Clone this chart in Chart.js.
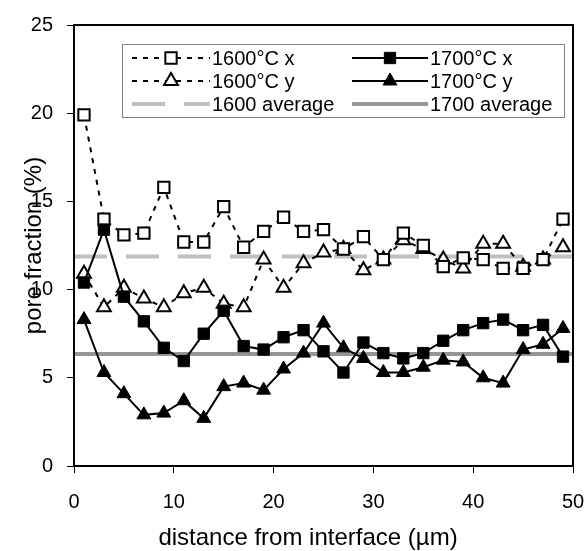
<!DOCTYPE html>
<html>
<head>
<meta charset="utf-8">
<script src="https://cdn.jsdelivr.net/npm/chart.js@4"></script>
<style>
  html, body { margin: 0; padding: 0; background: #fff; }
  #wrap { width: 588px; height: 551px; }
</style>
</head>
<body>
<div id="wrap"><canvas id="c" width="588" height="551"></canvas></div>
<script>
// ---- data ----
const distances = [1,3,5,7,9,11,13,15,17,19,21,23,25,27,29,31,33,35,37,39,41,43,45,47,49];
const x1600 = [19.9,14.0,13.1,13.2,15.8,12.7,12.7,14.7,12.4,13.3,14.1,13.3,13.4,12.3,13.0,11.7,13.2,12.5,11.3,11.8,11.7,11.2,11.2,11.7,14.0];
const y1600 = [10.9,9.0,10.1,9.5,9.0,9.8,10.1,9.2,9.0,11.7,10.1,11.5,12.1,12.3,11.1,11.7,12.8,12.3,11.7,11.2,12.6,12.6,11.3,11.7,12.4];
const x1700 = [10.4,13.4,9.6,8.2,6.7,5.95,7.5,8.8,6.8,6.6,7.3,7.7,6.5,5.3,7.0,6.4,6.1,6.4,7.1,7.7,8.1,8.3,7.7,8.0,6.2];
const y1700 = [8.3,5.3,4.1,2.9,3.0,3.7,2.7,4.5,4.7,4.3,5.5,6.4,8.1,6.7,6.1,5.3,5.3,5.6,6.0,5.9,5.0,4.7,6.6,6.9,7.8];
const avgRange = [0, 50];
const avg1600 = 11.87;
const avg1700 = 6.35;
const xTicks = [0,10,20,30,40,50];
const yTicks = [0,5,10,15,20,25];
const seriesNames = ['1600°C x','1700°C x','1600°C y','1700°C y','1600 average','1700 average'];
const xTitle = 'distance from interface (µm)';
const yTitle = 'pore fraction (%)';

const pts = (xs, ys) => xs.map((x, i) => ({x: x, y: ys[i]}));
const flat = (v) => avgRange.map(x => ({x: x, y: v}));

const FONT = "'Liberation Sans', Arial, sans-serif";

const datasets = [
  { label: seriesNames[0], data: pts(distances, x1600), borderColor: '#000', borderWidth: 2, borderDash: [5,6],
    pointStyle: 'rect', pointRadius: 8, pointBorderWidth: 2, pointBackgroundColor: '#fff', pointBorderColor: '#000', order: 2 },
  { label: seriesNames[1], data: pts(distances, x1700), borderColor: '#000', borderWidth: 2,
    pointStyle: 'rect', pointRadius: 8, pointBorderWidth: 1, pointBackgroundColor: '#000', pointBorderColor: '#000', order: 1 },
  { label: seriesNames[2], data: pts(distances, y1600), borderColor: '#000', borderWidth: 2, borderDash: [5,6],
    pointStyle: 'triangle', pointRadius: 8, pointBorderWidth: 2, pointBackgroundColor: '#fff', pointBorderColor: '#000', order: 2 },
  { label: seriesNames[3], data: pts(distances, y1700), borderColor: '#000', borderWidth: 2,
    pointStyle: 'triangle', pointRadius: 8, pointBorderWidth: 1, pointBackgroundColor: '#000', pointBorderColor: '#000', order: 1 },
  { label: seriesNames[4], data: flat(avg1600), borderColor: '#c0c0c0', borderWidth: 4, borderDash: [33,19],
    pointRadius: 0, order: 10 },
  { label: seriesNames[5], data: flat(avg1700), borderColor: '#969696', borderWidth: 4,
    pointRadius: 0, order: 10 }
];

// custom two-column legend drawn inside the chart area
const legendPlugin = {
  id: 'boxLegend',
  afterDraw(chart) {
    const ctx = chart.ctx;
    const box = { l: 122, t: 44, r: 564, b: 117 };
    ctx.save();
    ctx.fillStyle = '#fff';
    ctx.fillRect(box.l, box.t, box.r - box.l, box.b - box.t);
    ctx.strokeStyle = '#808080';
    ctx.lineWidth = 1;
    ctx.strokeRect(box.l + 0.5, box.t + 0.5, box.r - box.l, box.b - box.t);
    const cols = [{ x0: 132, x1: 210, tx: 212 }, { x0: 352, x1: 428, tx: 430 }];
    const rows = [58, 81, 104];
    const layout = [[0, 1], [2, 3], [4, 5]];
    ctx.font = '20px ' + FONT;
    ctx.textBaseline = 'middle';
    ctx.textAlign = 'left';
    layout.forEach((pair, r) => {
      pair.forEach((di, c) => {
        const ds = chart.data.datasets[di];
        const col = cols[c];
        const y = rows[r];
        ctx.save();
        ctx.strokeStyle = ds.borderColor;
        ctx.lineWidth = ds.borderWidth;
        ctx.setLineDash(ds.borderDash || []);
        ctx.beginPath();
        ctx.moveTo(col.x0, y);
        ctx.lineTo(col.x1, y);
        ctx.stroke();
        ctx.restore();
        if (ds.pointRadius > 0) {
          ctx.save();
          ctx.fillStyle = ds.pointBackgroundColor;
          ctx.strokeStyle = ds.pointBorderColor;
          ctx.lineWidth = ds.pointBorderWidth;
          Chart.helpers.drawPoint(ctx, { pointStyle: ds.pointStyle, radius: ds.pointRadius, borderWidth: ds.pointBorderWidth, rotation: 0 }, (col.x0 + col.x1) / 2, y);
          ctx.restore();
        }
        ctx.fillStyle = '#000';
        ctx.fillText(ds.label, col.tx, y + 1);
      });
    });
    // x-axis title (slightly left of chart-area centre, as in the reference)
    ctx.font = '24px ' + FONT;
    ctx.textAlign = 'center';
    ctx.textBaseline = 'middle';
    ctx.fillStyle = '#000';
    ctx.fillText(xTitle, 308, 538);
    ctx.restore();
  }
};

const framePlugin = {
  id: 'frame',
  afterDatasetsDraw(chart) {
    const a = chart.chartArea;
    const ctx = chart.ctx;
    ctx.save();
    ctx.strokeStyle = '#000';
    ctx.lineWidth = 2;
    ctx.strokeRect(a.left, a.top, a.right - a.left, a.bottom - a.top);
    ctx.restore();
  }
};

new Chart(document.getElementById('c'), {
  type: 'line',
  data: { datasets: datasets },
  options: {
    responsive: false,
    animation: false,
    events: [],
    layout: { padding: { top: 25, right: 15, left: 0, bottom: 0 } },
    plugins: { legend: { display: false }, tooltip: { enabled: false } },
    elements: { line: { tension: 0 } },
    scales: {
      x: {
        type: 'linear', min: 0, max: 50,
        afterBuildTicks: (s) => { s.ticks = xTicks.map(v => ({ value: v })); },
        afterFit: (s) => { s.height = 85; s.paddingRight = 0; s.paddingLeft = 0; },
        grid: { drawOnChartArea: false, tickLength: 7, color: '#000', tickWidth: 1 },
        border: { color: '#000', width: 2 },
        ticks: { color: '#000', font: { family: FONT, size: 20 }, padding: 17, maxRotation: 0 },
        title: { display: false }
      },
      y: {
        type: 'linear', min: 0, max: 25,
        afterBuildTicks: (s) => { s.ticks = yTicks.map(v => ({ value: v })); },
        afterFit: (s) => { s.width = 74; s.paddingTop = 0; s.paddingBottom = 0; },
        grid: { drawOnChartArea: false, tickLength: 7, color: '#000', tickWidth: 1 },
        border: { color: '#000', width: 2 },
        ticks: { color: '#000', font: { family: FONT, size: 20 }, padding: 14 },
        title: { display: true, text: yTitle, color: '#000', font: { family: FONT, size: 24 }, padding: { top: 20, bottom: 0 } }
      }
    }
  },
  plugins: [framePlugin, legendPlugin]
});
</script>
</body>
</html>
